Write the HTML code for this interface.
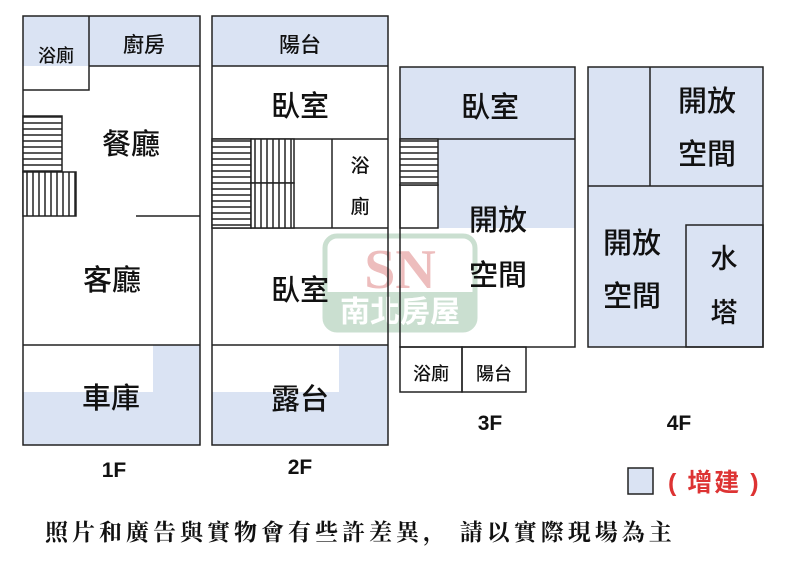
<!DOCTYPE html>
<html><head><meta charset="utf-8"><style>
html,body{margin:0;padding:0;background:#fff;width:800px;height:565px;overflow:hidden}
svg text{font-family:"Liberation Sans","Noto Sans CJK TC",sans-serif;fill:#111;font-weight:500}
</style></head><body>
<svg width="800" height="565" viewBox="0 0 800 565" xmlns="http://www.w3.org/2000/svg">
<defs>
<pattern id="hh" width="6" height="6" patternUnits="userSpaceOnUse"><rect width="6" height="6" fill="#fff"/><line x1="0" y1="3" x2="6" y2="3" stroke="#222" stroke-width="1.5"/></pattern>
<pattern id="vv" width="6" height="6" patternUnits="userSpaceOnUse"><rect width="6" height="6" fill="#fff"/><line x1="3" y1="0" x2="3" y2="6" stroke="#222" stroke-width="1.5"/></pattern>
</defs>
<g fill="#dae3f3">
<rect x="23" y="16" width="177" height="50"/>
<rect x="153" y="345" width="47" height="100"/><rect x="23" y="392" width="177" height="53"/>
<rect x="212" y="16" width="176" height="50"/>
<rect x="339" y="345" width="49" height="100"/><rect x="212" y="392" width="176" height="53"/>
<rect x="400" y="67" width="175" height="72"/><rect x="438" y="139" width="137" height="89"/>
<rect x="588" y="67" width="175" height="280"/>
<rect x="628" y="468" width="25" height="26"/>
</g>
<g opacity="0.35">
<rect x="325" y="236" width="150" height="94" rx="12" fill="none" stroke="#6aa57a" stroke-width="5"/>
<rect x="327" y="292" width="146" height="36" fill="#6aa57a"/>
<text x="400" y="288" text-anchor="middle" style="font-family:'Liberation Serif',serif;font-size:56px;font-weight:bold;fill:#c44">SN</text>
<text x="400" y="322" text-anchor="middle" style="font-size:30px;font-weight:bold;fill:#fff">南北房屋</text>
</g>
<g fill="none" stroke="#222" stroke-width="1.5">
<rect x="23" y="16" width="177" height="429"/>
<polyline points="23,90 89,90 89,16"/>
<line x1="89" y1="66" x2="200" y2="66"/>
<line x1="136" y1="216" x2="200" y2="216"/>
<line x1="23" y1="345" x2="200" y2="345"/>
<rect x="212" y="16" width="176" height="429"/>
<line x1="212" y1="66" x2="388" y2="66"/>
<line x1="212" y1="139" x2="388" y2="139"/>
<line x1="212" y1="228" x2="388" y2="228"/>
<line x1="332" y1="139" x2="332" y2="228"/>
<line x1="212" y1="345" x2="388" y2="345"/>
<rect x="400" y="67" width="175" height="280"/>
<line x1="400" y1="139" x2="575" y2="139"/>
<rect x="400" y="185" width="38" height="43"/>
<rect x="400" y="347" width="62" height="45"/><rect x="462" y="347" width="64" height="45"/>
<rect x="588" y="67" width="175" height="280"/>
<line x1="588" y1="186" x2="763" y2="186"/>
<line x1="650" y1="67" x2="650" y2="186"/>
<rect x="686" y="225" width="77" height="122"/>
<rect x="628" y="468" width="25" height="26"/>
</g>
<g stroke="#222" stroke-width="1.5">
<rect x="23" y="116" width="39" height="56" fill="url(#hh)"/>
<rect x="23" y="172" width="53" height="44" fill="url(#vv)"/>
<rect x="212" y="139" width="39" height="89" fill="url(#hh)"/>
<rect x="251" y="139" width="43" height="44" fill="url(#vv)"/>
<rect x="251" y="183" width="43" height="45" fill="url(#vv)"/>
<rect x="400" y="139" width="38" height="46" fill="url(#hh)"/>
</g>
<g text-anchor="middle">
<text x="56" y="62" font-size="18">浴廁</text>
<text x="144" y="52" font-size="21">廚房</text>
<text x="131" y="154" font-size="29">餐廳</text>
<text x="112" y="290" font-size="29">客廳</text>
<text x="111" y="408" font-size="29">車庫</text>
<text x="300" y="52" font-size="21">陽台</text>
<text x="300" y="116" font-size="29">臥室</text>
<text x="360" y="172" font-size="19">浴</text>
<text x="360" y="213" font-size="19">廁</text>
<text x="300" y="300" font-size="29">臥室</text>
<text x="300" y="409" font-size="29">露台</text>
<text x="490" y="117" font-size="29">臥室</text>
<text x="498" y="230" font-size="29">開放</text>
<text x="498" y="285" font-size="29">空間</text>
<text x="431" y="380" font-size="18">浴廁</text>
<text x="494" y="380" font-size="18">陽台</text>
<text x="707" y="111" font-size="29">開放</text>
<text x="707" y="164" font-size="29">空間</text>
<text x="632" y="253" font-size="29">開放</text>
<text x="632" y="306" font-size="29">空間</text>
<text x="724" y="268" font-size="27">水</text>
<text x="724" y="322" font-size="27">塔</text>
<text x="114" y="477" font-size="21" style="font-weight:bold">1F</text>
<text x="300" y="474" font-size="21" style="font-weight:bold">2F</text>
<text x="490" y="430" font-size="21" style="font-weight:bold">3F</text>
<text x="679" y="430" font-size="21" style="font-weight:bold">4F</text>
</g>
<text x="668" y="491" font-size="25" letter-spacing="2" style="fill:#d33;font-weight:bold">( 增建 )</text>
<text x="45" y="540" font-size="23" letter-spacing="4" style="font-family:'Liberation Serif','Noto Serif CJK SC',serif;font-weight:bold">照片和廣告與實物會有些許差異，  請以實際現場為主</text>
</svg>
</body></html>
